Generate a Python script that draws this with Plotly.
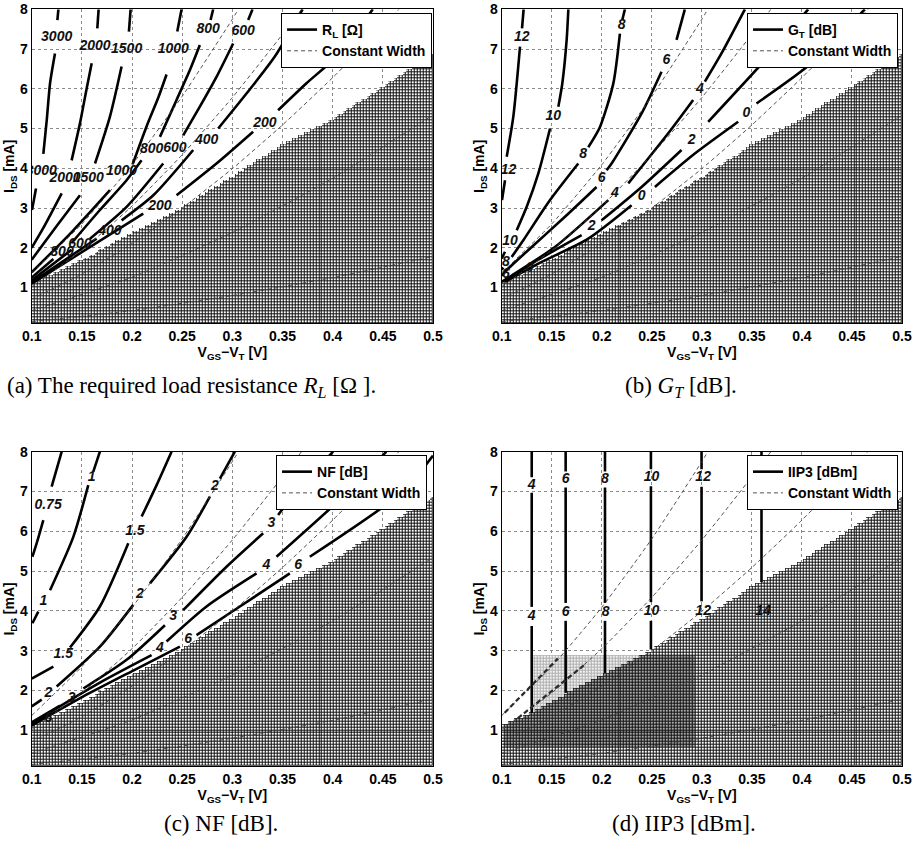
import numpy as np
import plotly.graph_objects as go

# ---------------- axes ----------------
X_TICKS = [0.1, 0.15, 0.2, 0.25, 0.3, 0.35, 0.4, 0.45, 0.5]
X_TICK_TEXT = ["0.1", "0.15", "0.2", "0.25", "0.3", "0.35", "0.4", "0.45", "0.5"]
Y_TICKS = [1, 2, 3, 4, 5, 6, 7, 8]
Y_TICK_TEXT = ["1", "2", "3", "4", "5", "6", "7", "8"]

# ---------------- hatched (not allowed) region: upper boundary ----------------
BND_X = [0.1, 0.15, 0.2, 0.25, 0.3, 0.35, 0.4, 0.45, 0.5]
BND_Y = [1.1, 1.72, 2.38, 3.02, 3.8, 4.6, 5.25, 6.05, 6.9]

# ---------------- constant width lines (dashed) ----------------
CW_A_X = [0.1, 0.15, 0.2, 0.25, 0.3, 0.306]
CW_A_Y = [1.37, 2.60, 4.09, 5.81, 7.75, 8.0]
CW_B_X = [0.1, 0.15, 0.2, 0.25, 0.3, 0.35, 0.369]
CW_B_Y = [1.02, 1.94, 3.05, 4.34, 5.78, 7.37, 8.0]
CW_C_X = [0.1, 0.15, 0.2, 0.25, 0.3, 0.35, 0.4, 0.45, 0.466]
CW_C_Y = [0.71, 1.34, 2.11, 3.0, 3.99, 5.09, 6.28, 7.56, 8.0]
CW_D_X = [0.1, 0.2, 0.3, 0.4, 0.5]
CW_D_Y = [0.42, 1.26, 2.39, 3.75, 5.34]
CW_E_X = [0.1, 0.2, 0.3, 0.4, 0.5]
CW_E_Y = [0.14, 0.42, 0.80, 1.25, 1.78]

# ---------------- (a) R_L [Ohm] contours ----------------
RL3000_X = [0.1003, 0.1043, None, 0.1116, 0.1150, 0.1183, 0.1232, None, 0.1256, 0.1266]
RL3000_Y = [2.95, 3.49, None, 4.36, 5.21, 6.14, 6.89, None, 7.73, 8.0]
RL3000_LAB = [(0.1095, 3.91), (0.1249, 7.29)]
RL2000_X = [0.1, 0.1116, 0.1299, None, 0.1398, 0.1481, 0.1548, 0.1598, None, 0.1654, 0.1667]
RL2000_Y = [2.0, 2.5, 3.37, None, 4.2, 5.13, 6.01, 6.64, None, 7.52, 8.0]
RL2000_LAB = [(0.1332, 3.74), (0.1631, 7.06)]
RL1500_X = [0.1, 0.1249, 0.1481, None, 0.1631, 0.178, 0.1896, None, 0.1969, 0.1986]
RL1500_Y = [1.7, 2.55, 3.32, None, 4.12, 5.3, 6.56, None, 7.44, 8.0]
RL1500_LAB = [(0.1564, 3.74), (0.1946, 6.98)]
RL1000_X = [0.1, 0.1415, 0.178, None, 0.2006, 0.2146, 0.2262, 0.2344, None, 0.2451, 0.2494]
RL1000_Y = [1.38, 2.44, 3.45, None, 4.1, 5.06, 5.78, 6.36, None, 7.44, 8.0]
RL1000_LAB = [(0.1896, 3.91), (0.2411, 6.99)]
RL800_X = [0.1, 0.1216, None, 0.1398, 0.168, 0.1946, 0.2095, None, 0.2278, 0.2444, 0.2577, 0.2676, None, 0.2783, 0.2809]
RL800_Y = [1.25, 1.72, None, 2.12, 2.95, 3.7, 4.2, None, 4.79, 5.72, 6.47, 7.1, None, 7.73, 8.0]
RL800_LAB = [(0.1302, 1.87), (0.2195, 4.46), (0.2759, 7.5)]
RL600_X = [0.1, 0.1398, None, 0.1581, 0.1946, 0.2311, None, 0.251, 0.2676, 0.2842, 0.3008, None, 0.3158, 0.3201]
RL600_Y = [1.18, 1.95, None, 2.23, 3.03, 4.12, None, 4.83, 5.55, 6.3, 7.14, None, 7.73, 8.0]
RL600_LAB = [(0.1481, 2.07), (0.2427, 4.5), (0.3108, 7.44)]
RL400_X = [0.1, 0.1647, None, 0.1896, 0.2212, 0.261, None, 0.2859, 0.3141, 0.3423, 0.37]
RL400_Y = [1.13, 2.23, None, 2.69, 3.32, 4.46, None, 5.0, 5.88, 6.81, 8.0]
RL400_LAB = [(0.178, 2.42), (0.2743, 4.71)]
RL200_X = [0.1, 0.2112, None, 0.2444, 0.2842, 0.3207, None, 0.3456, 0.3739, 0.4037, 0.44]
RL200_Y = [1.1, 2.86, None, 3.32, 4.12, 4.92, None, 5.46, 6.14, 6.81, 8.0]
RL200_LAB = [(0.2278, 3.03), (0.3324, 5.13)]

# ---------------- (b) G_T [dB] contours ----------------
GT12_X = [0.1219, 0.1203, None, 0.1183, 0.1116, 0.105, None, 0.1033, 0.1003]
GT12_Y = [8.0, 7.52, None, 7.06, 5.3, 4.29, None, 3.7, 3.2]
GT12_LAB = [(0.1200, 7.29), (0.1067, 3.95)]
GT10_X = [0.1666, 0.1649, 0.1606, 0.1566, None, 0.1483, 0.1366, 0.125, 0.115, None, 0.1033, 0.1]
GT10_Y = [8.0, 7.23, 6.14, 5.55, None, 5.0, 3.87, 3.03, 2.44, None, 1.9, 1.73]
GT10_LAB = [(0.1516, 5.31), (0.1083, 2.15)]
GT8_X = [0.2231, 0.2205, None, 0.2181, 0.2115, 0.1982, 0.1865, None, 0.1765, 0.1483, 0.1216, 0.11, None, 0.1017, 0.1]
GT8_Y = [8.0, 7.73, None, 7.39, 6.13, 5.04, 4.53, None, 4.12, 3.2, 2.19, 1.77, None, 1.5, 1.45]
GT8_LAB = [(0.2198, 7.58), (0.1815, 4.35), (0.1043, 1.62)]
GT6_X = [0.283, 0.2747, None, 0.2597, 0.2398, 0.2098, 0.2048, None, 0.1948, 0.1632, 0.13, 0.1067, 0.1]
GT6_Y = [8.0, 7.23, None, 6.43, 5.38, 4.12, 3.95, None, 3.53, 2.78, 2.02, 1.48, 1.3]
GT6_LAB = [(0.2647, 6.72), (0.1998, 3.74), (0.1043, 1.33)]
GT4_X = [0.343, 0.3196, 0.303, None, 0.2913, 0.2664, 0.2265, None, 0.2065, 0.1532, 0.1067, 0.1]
GT4_Y = [8.0, 6.89, 6.18, None, 5.72, 4.88, 3.62, None, 3.2, 2.02, 1.25, 1.14]
GT4_LAB = [(0.298, 5.97), (0.2131, 3.37)]
GT2_X = [0.4062, 0.3662, 0.3063, None, 0.2797, 0.2398, 0.1998, None, 0.1799, 0.1366, 0.1033]
GT2_Y = [8.0, 6.81, 5.17, None, 4.46, 3.53, 2.69, None, 2.32, 1.7, 1.16]
GT2_LAB = [(0.2897, 4.71), (0.1898, 2.53)]
GT0_X = [0.4628, 0.4094, 0.3546, None, 0.3363, 0.293, 0.2531, None, 0.2298, 0.1865, 0.1366, 0.1033]
GT0_Y = [8.0, 6.64, 5.63, None, 5.17, 4.37, 3.53, None, 3.07, 2.23, 1.6, 1.14]
GT0_LAB = [(0.3446, 5.38), (0.2398, 3.28), (0.128, 1.47)]

# ---------------- (c) NF [dB] contours ----------------
NF075_X = [0.1299, 0.1199, None, 0.1116, 0.105, 0.1007]
NF075_Y = [8.0, 7.12, None, 6.28, 5.7, 5.36]
NF075_LAB = [(0.1163, 6.64)]
NF1_X = [0.168, 0.1614, None, 0.1564, 0.1415, 0.1183, None, 0.1066, 0.1007]
NF1_Y = [8.0, 7.5, None, 7.16, 5.86, 4.52, None, 3.98, 3.69]
NF1_LAB = [(0.1597, 7.35), (0.1116, 4.23)]
NF15_X = [0.2394, 0.2245, 0.2096, None, 0.1963, 0.168, 0.1382, None, 0.1216, 0.1]
NF15_Y = [8.0, 7.16, 6.37, None, 5.7, 4.11, 3.08, None, 2.6, 2.3]
NF15_LAB = [(0.2029, 5.99), (0.1315, 2.9)]
NF2_X = [0.3025, 0.2876, None, 0.2776, 0.2544, 0.2179, None, 0.2012, 0.168, 0.1249, None, 0.11, 0.1]
NF2_Y = [8.0, 7.32, None, 6.87, 5.86, 4.69, None, 4.15, 3.1, 2.1, None, 1.77, 1.6]
NF2_LAB = [(0.2826, 7.12), (0.2079, 4.4), (0.1166, 1.92)]
NF3_X = [0.4004, 0.3639, 0.3456, None, 0.3307, 0.2942, 0.251, None, 0.2328, 0.1946, 0.1515, None, 0.1282, 0.1]
NF3_Y = [8.0, 7.0, 6.41, None, 5.95, 5.11, 4.02, None, 3.64, 2.77, 2.05, None, 1.62, 1.2]
NF3_LAB = [(0.339, 6.2), (0.2411, 3.85), (0.1398, 1.8)]
NF4_X = [0.4535, 0.4137, 0.344, None, 0.3241, 0.2743, 0.2344, None, 0.2195, 0.168, 0.1183, 0.1]
NF4_Y = [8.0, 6.95, 5.36, None, 4.94, 4.11, 3.23, None, 2.89, 2.2, 1.45, 1.15]
NF4_LAB = [(0.334, 5.15), (0.2278, 3.06)]
NF6_X = [0.5, 0.4701, 0.3772, None, 0.3573, 0.3075, 0.2643, None, 0.2477, 0.2012, 0.1515, 0.1183, 0.1]
NF6_Y = [7.9, 7.0, 5.36, None, 4.94, 4.11, 3.39, None, 3.1, 2.5, 1.85, 1.38, 1.12]
NF6_LAB = [(0.3656, 5.15), (0.256, 3.27), (0.1166, 1.3)]

# ---------------- (d) IIP3 [dBm] contours ----------------
IP4_X = [0.13, 0.13, None, 0.13, 0.13, None, 0.13, 0.13]
IP4_Y = [8.0, 7.36, None, 6.97, 4.1, None, 3.62, 1.44]
IP4_LAB = [(0.13, 7.16), (0.13, 3.86)]
IP6_X = [0.1639, 0.1639, None, 0.1639, 0.1639, None, 0.1639, 0.1639]
IP6_Y = [8.0, 7.5, None, 7.1, 4.2, None, 3.75, 1.94]
IP6_LAB = [(0.1639, 7.3), (0.1639, 3.97)]
IP8_X = [0.2032, 0.2032, None, 0.2032, 0.2032, None, 0.2032, 0.2032]
IP8_Y = [8.0, 7.5, None, 7.1, 4.2, None, 3.75, 2.44]
IP8_LAB = [(0.2032, 7.3), (0.2038, 3.97)]
IP10_X = [0.2491, 0.2491, None, 0.2491, 0.2491, None, 0.2491, 0.2491]
IP10_Y = [8.0, 7.56, None, 7.13, 4.22, None, 3.75, 3.03]
IP10_LAB = [(0.2498, 7.36), (0.2498, 3.99)]
IP12_X = [0.2997, 0.2997, None, 0.2997, 0.2997]
IP12_Y = [8.0, 7.56, None, 7.12, 4.24]
IP12_LAB = [(0.3013, 7.36), (0.3013, 3.99)]
IP14_X = [0.3596, 0.3596]
IP14_Y = [8.0, 4.72]
IP14_LAB = [(0.3613, 3.99)]
# overlay region of panel (d)
IP_DARK_X = [0.1033, 0.293]
IP_DARK_Y = [0.52, 2.85]
IP_LIGHT_X0 = 0.13
IP_THICK_A_X = [0.103, 0.156]
IP_THICK_A_Y = [1.44, 2.80]
IP_THICK_B_X = [0.116, 0.182]
IP_THICK_B_Y = [1.30, 2.63]

RL_CONTOURS = [("3000", RL3000_X, RL3000_Y, RL3000_LAB), ("2000", RL2000_X, RL2000_Y, RL2000_LAB),
               ("1500", RL1500_X, RL1500_Y, RL1500_LAB), ("1000", RL1000_X, RL1000_Y, RL1000_LAB),
               ("800", RL800_X, RL800_Y, RL800_LAB), ("600", RL600_X, RL600_Y, RL600_LAB),
               ("400", RL400_X, RL400_Y, RL400_LAB), ("200", RL200_X, RL200_Y, RL200_LAB)]
GT_CONTOURS = [("12", GT12_X, GT12_Y, GT12_LAB), ("10", GT10_X, GT10_Y, GT10_LAB),
               ("8", GT8_X, GT8_Y, GT8_LAB), ("6", GT6_X, GT6_Y, GT6_LAB),
               ("4", GT4_X, GT4_Y, GT4_LAB), ("2", GT2_X, GT2_Y, GT2_LAB), ("0", GT0_X, GT0_Y, GT0_LAB)]
NF_CONTOURS = [("0.75", NF075_X, NF075_Y, NF075_LAB), ("1", NF1_X, NF1_Y, NF1_LAB),
               ("1.5", NF15_X, NF15_Y, NF15_LAB), ("2", NF2_X, NF2_Y, NF2_LAB),
               ("3", NF3_X, NF3_Y, NF3_LAB), ("4", NF4_X, NF4_Y, NF4_LAB), ("6", NF6_X, NF6_Y, NF6_LAB)]
IP_CONTOURS = [("4", IP4_X, IP4_Y, IP4_LAB), ("6", IP6_X, IP6_Y, IP6_LAB), ("8", IP8_X, IP8_Y, IP8_LAB),
               ("10", IP10_X, IP10_Y, IP10_LAB), ("12", IP12_X, IP12_Y, IP12_LAB), ("14", IP14_X, IP14_Y, IP14_LAB)]
CW_LINES = [(CW_A_X, CW_A_Y), (CW_B_X, CW_B_Y), (CW_C_X, CW_C_Y), (CW_D_X, CW_D_Y), (CW_E_X, CW_E_Y)]

PANELS = [
    dict(name="<b>R<sub>L</sub> [Ω]</b>", contours=RL_CONTOURS, legend="legend",
         caption="(a) The required load resistance <i>R<sub>L</sub></i> [Ω ].", cx=0.0055, cy=0.5445, anchor="left"),
    dict(name="<b>G<sub>T</sub> [dB]</b>", contours=GT_CONTOURS, legend="legend2",
         caption="(b) <i>G<sub>T</sub></i> [dB].", cx=0.744, cy=0.5445, anchor="center"),
    dict(name="<b>NF [dB]</b>", contours=NF_CONTOURS, legend="legend3",
         caption="(c) NF [dB].", cx=0.2420, cy=0.0300, anchor="center"),
    dict(name="<b>IIP3 [dBm]</b>", contours=IP_CONTOURS, legend="legend4",
         caption="(d) IIP3 [dBm].", cx=0.7475, cy=0.0300, anchor="center"),
]

XDOM = [[0.03464, 0.47322], [0.54831, 0.98579], [0.03464, 0.47322], [0.54831, 0.98579]]
YDOM = [[0.6192, 0.98905], [0.6192, 0.98905], [0.09764, 0.46800], [0.09764, 0.46800]]
LEG_POS = [(0.4722, 0.9847), (0.9814, 0.9847), (0.4667, 0.4640), (0.9814, 0.4640)]

# hatch grid (cell structure)
NX, NY = 134, 105
xe = np.linspace(0.1, 0.5, NX + 1)
ye = np.linspace(0.1, 8.0, NY + 1)
xc = 0.5 * (xe[:-1] + xe[1:])
yc = 0.5 * (ye[:-1] + ye[1:])
bnd = np.interp(xc, BND_X, BND_Y)
inside = yc[:, None] < bnd[None, :]


def to_list(a):
    return [[None if np.isnan(v) else float(v) for v in row] for row in a]


fig = go.Figure()
LABEL_FONT = dict(family="Liberation Sans", size=14, color="#111111", weight="bold", style="italic")

for k, p in enumerate(PANELS):
    xa = "x" if k == 0 else f"x{k+1}"
    ya = "y" if k == 0 else f"y{k+1}"
    X2 = np.broadcast_to(xc[None, :], inside.shape)
    Y2 = np.broadcast_to(yc[:, None], inside.shape)
    base = np.full(inside.shape, np.nan)
    top = np.full(inside.shape, np.nan)
    base[inside] = 0
    top[inside] = 0
    if k == 3:
        dark = inside & (X2 >= IP_DARK_X[0]) & (X2 <= IP_DARK_X[1]) & (Y2 >= IP_DARK_Y[0]) & (Y2 <= IP_DARK_Y[1])
        light = (~inside) & (X2 >= IP_LIGHT_X0) & (X2 <= IP_DARK_X[1]) & (Y2 <= IP_DARK_Y[1])
        top[dark] = 1
        base[light] = 1
        top[light] = 2
    fig.add_trace(go.Heatmap(x=xe, y=ye, z=to_list(base), zmin=0, zmax=1, showscale=False,
                             colorscale=[[0, "#111111"], [0.5, "#111111"], [0.5, "#b0b0b0"], [1, "#b0b0b0"]],
                             hoverinfo="skip", xaxis=xa, yaxis=ya, showlegend=False))
    fig.add_trace(go.Heatmap(x=xe, y=ye, z=to_list(top), zmin=0, zmax=2, showscale=False, xgap=1, ygap=1,
                             colorscale=[[0, "#ffffff"], [0.33, "#ffffff"], [0.33, "#a8a8a8"], [0.66, "#a8a8a8"],
                                         [0.66, "#f2f2f2"], [1, "#f2f2f2"]],
                             hoverinfo="skip", xaxis=xa, yaxis=ya, showlegend=False))
    for i, (lev, cx_, cy_, lab) in enumerate(p["contours"]):
        fig.add_trace(go.Scatter(x=cx_, y=cy_, mode="lines", line=dict(color="black", width=2.6, shape="spline", smoothing=0.7),
                                 connectgaps=False, xaxis=xa, yaxis=ya, name=p["name"], legend=p["legend"],
                                 showlegend=(i == 0), hoverinfo="skip"))
    for i, (wx, wy) in enumerate(CW_LINES):
        fig.add_trace(go.Scatter(x=wx, y=wy, mode="lines", line=dict(color="#404040", width=0.9, dash="4px,3px", shape="spline", smoothing=0.5),
                                 xaxis=xa, yaxis=ya, name="<b>Constant Width</b>", legend=p["legend"],
                                 showlegend=(i == 0), hoverinfo="skip"))
    if k == 3:
        for tx, ty in [(IP_THICK_A_X, IP_THICK_A_Y), (IP_THICK_B_X, IP_THICK_B_Y)]:
            fig.add_trace(go.Scatter(x=tx, y=ty, mode="lines", line=dict(color="#2a2a2a", width=2.2, dash="5px,3px"),
                                     xaxis=xa, yaxis=ya, showlegend=False, hoverinfo="skip"))
    lx, ly, lt = [], [], []
    for lev, cx_, cy_, lab in p["contours"]:
        for (a, b) in lab:
            lx.append(a); ly.append(b); lt.append(lev)
    fig.add_trace(go.Scatter(x=lx, y=ly, text=lt, mode="text", textfont=LABEL_FONT, cliponaxis=True,
                             xaxis=xa, yaxis=ya, showlegend=False, hoverinfo="skip"))

layout = dict(width=915, height=849, margin=dict(l=0, r=0, t=0, b=0, autoexpand=False), paper_bgcolor="white",
              plot_bgcolor="white", font=dict(family="Liberation Sans", color="black"), annotations=[])
for k in range(4):
    xk = "xaxis" if k == 0 else f"xaxis{k+1}"
    yk = "yaxis" if k == 0 else f"yaxis{k+1}"
    ya = "y" if k == 0 else f"y{k+1}"
    xa = "x" if k == 0 else f"x{k+1}"
    layout[xk] = dict(domain=XDOM[k], anchor=ya, range=[0.1, 0.5], tickvals=X_TICKS, ticktext=X_TICK_TEXT,
                      showline=True, mirror=True, linecolor="black", linewidth=1, showgrid=True, automargin=False,
                      gridcolor="#8a8a8a", griddash="dot", gridwidth=1, zeroline=False, ticks="",
                      ticklabeloverflow="allow",
                      tickfont=dict(size=14, weight="bold", color="black"),
                      title=dict(text="<b>V<sub>GS</sub>−V<sub>T</sub> [V]</b>", font=dict(size=14), standoff=2))
    layout[yk] = dict(domain=YDOM[k], anchor=xa, range=[0.1, 8.0], tickvals=Y_TICKS, ticktext=Y_TICK_TEXT,
                      showline=True, mirror=True, linecolor="black", linewidth=1, showgrid=True, automargin=False,
                      gridcolor="#8a8a8a", griddash="dot", gridwidth=1, zeroline=False, ticks="",
                      ticklabeloverflow="allow",
                      tickfont=dict(size=14, weight="bold", color="black"),
                      title=dict(text="<b>I<sub>DS</sub> [mA]</b>", font=dict(size=14), standoff=2))
    lk = "legend" if k == 0 else f"legend{k+1}"
    layout[lk] = dict(x=LEG_POS[k][0], y=LEG_POS[k][1], xanchor="right", yanchor="top", xref="paper", yref="paper",
                      bgcolor="white", bordercolor="black", borderwidth=1, tracegroupgap=0,
                      font=dict(size=14, family="Liberation Sans", color="black"))
    p = PANELS[k]
    layout["annotations"].append(dict(text=p["caption"], x=p["cx"], y=p["cy"], xref="paper", yref="paper",
                                      showarrow=False, xanchor=p["anchor"], yanchor="middle",
                                      font=dict(family="Liberation Serif", size=23, color="black")))

fig.update_layout(**layout)
fig.write_html("out.html", config={"displayModeBar": False},
               post_script="document.body.style.margin='0px';document.body.style.overflow='hidden';")
